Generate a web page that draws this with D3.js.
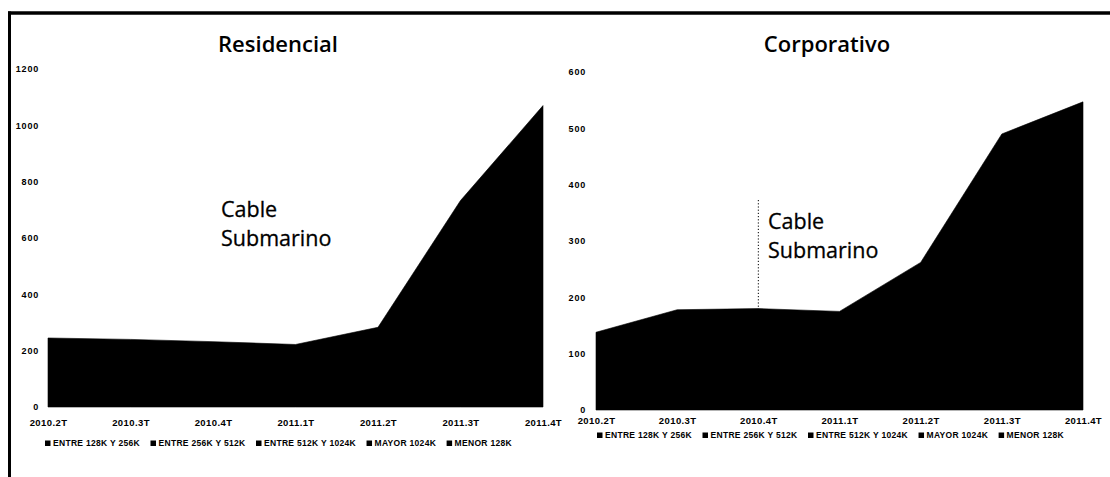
<!DOCTYPE html>
<html>
<head>
<meta charset="utf-8">
<script src="https://cdn.jsdelivr.net/npm/d3@7"></script>
<style>
  html, body { margin: 0; padding: 0; background: #fff; }
  svg { display: block; }
</style>
</head>
<body>
<svg id="chart" width="1110" height="477"></svg>
<script>
// ---- data ----
const quarters = ["2010.2T", "2010.3T", "2010.4T", "2011.1T", "2011.2T", "2011.3T", "2011.4T"];
const residencialTotal = [245, 240, 232, 222, 283, 733, 1070];
const corporativoTotal = [138, 178, 180, 175, 262, 490, 547];
const residencialTicks = [0, 200, 400, 600, 800, 1000, 1200];
const corporativoTicks = [0, 100, 200, 300, 400, 500, 600];
const legendLabels = ["ENTRE 128K Y 256K", "ENTRE 256K Y 512K", "ENTRE 512K Y 1024K", "MAYOR 1024K", "MENOR 128K"];
const annotation = ["Cable", "Submarino"];
const markerQuarter = "2010.4T";

const svg = d3.select("#chart");

// frame (scanned document border)
svg.append("line").attr("x1", 8).attr("x2", 1110).attr("y1", 13).attr("y2", 13)
  .attr("stroke", "#000").attr("stroke-width", 3.5);
svg.append("line").attr("x1", 9.5).attr("x2", 9.5).attr("y1", 11.5).attr("y2", 477)
  .attr("stroke", "#000").attr("stroke-width", 3);

function panel(opts) {
  const g = svg.append("g");
  const x = d3.scalePoint().domain(quarters).range(opts.xRange);
  const y = d3.scaleLinear().domain([0, opts.ticks[opts.ticks.length - 1]]).range(opts.yRange);

  // title
  g.append("text").attr("x", opts.titleX).attr("y", 52).attr("text-anchor", "middle")
    .attr("font-family", "Open Sans, sans-serif").attr("font-size", 22).attr("font-weight", 600)
    .attr("fill", "#000").text(opts.title);

  // y axis labels
  const ya = d3.axisLeft(y).tickValues(opts.ticks).tickSize(0).tickPadding(0).tickFormat(d3.format("d"));
  const yg = g.append("g").attr("transform", `translate(${opts.yLabelX},0)`).call(ya);
  yg.select(".domain").remove();
  yg.selectAll("text").attr("font-family", "Liberation Sans, sans-serif").attr("font-size", 9)
    .attr("font-weight", "bold").attr("letter-spacing", 0.8).attr("fill", "#000");

  // area
  const area = d3.area().x((d, i) => x(quarters[i])).y0(y(0)).y1(d => y(d));
  g.append("path").datum(opts.values).attr("d", area).attr("fill", "#000").attr("stroke", "#000").attr("stroke-width", 0.6);

  // marker line
  if (opts.marker) {
    g.append("line").attr("x1", x(markerQuarter)).attr("x2", x(markerQuarter))
      .attr("y1", opts.markerTop).attr("y2", y(0))
      .attr("stroke", "#000").attr("stroke-width", 1).attr("stroke-dasharray", "1.2,2");
  }

  // x axis labels
  const xa = d3.axisBottom(x).tickSize(0).tickPadding(0);
  const xg = g.append("g").attr("transform", `translate(0,${opts.xLabelY})`).call(xa);
  xg.select(".domain").remove();
  xg.selectAll("text").attr("font-family", "Liberation Sans, sans-serif").attr("font-size", 9.5)
    .attr("font-weight", "bold").attr("letter-spacing", 0.4).attr("fill", "#000").attr("dy", "0.7em");

  // annotation
  const t = g.append("text").attr("font-family", "Open Sans, sans-serif").attr("font-size", 21.5)
    .attr("fill", "#000").attr("stroke", "#000").attr("stroke-width", 0.3);
  annotation.forEach((s, i) => {
    t.append("tspan").attr("x", opts.annX).attr("y", opts.annY + i * 29).text(s);
  });

  // legend
  const lg = g.append("g").attr("transform", `translate(${opts.legendX},${opts.legendY})`);
  let cx = 0;
  legendLabels.forEach(lbl => {
    lg.append("rect").attr("x", cx).attr("y", -5.5).attr("width", 5.5).attr("height", 5.5).attr("fill", "#000");
    const tx = lg.append("text").attr("x", cx + 8).attr("y", 0)
      .attr("font-family", "Liberation Sans, sans-serif").attr("font-size", 8.5).attr("font-weight", "bold")
      .attr("letter-spacing", 0.3).attr("fill", "#000").text(lbl);
    cx += 8 + tx.node().getComputedTextLength() + 10.5;
  });
}

panel({
  title: "Residencial", titleX: 278, values: residencialTotal, ticks: residencialTicks,
  xRange: [48, 543], yRange: [407, 69], yLabelX: 39, xLabelY: 419,
  annX: 221, annY: 217, legendX: 45, legendY: 446, marker: false
});
panel({
  title: "Corporativo", titleX: 827, values: corporativoTotal, ticks: corporativoTicks,
  xRange: [596, 1083], yRange: [410, 72], yLabelX: 586, xLabelY: 417,
  annX: 768, annY: 229, legendX: 597, legendY: 438, marker: true, markerTop: 200
});
</script>
</body>
</html>
